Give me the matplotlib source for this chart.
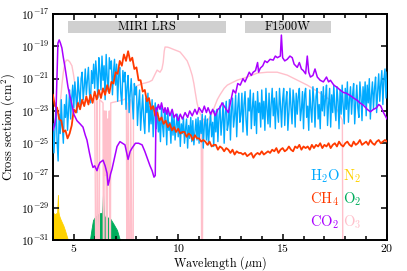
import numpy as np
import matplotlib
matplotlib.use("Agg")
import matplotlib.pyplot as plt

plt.rcParams['font.family'] = 'serif'
plt.rcParams['font.serif'] = ['cmr10']
plt.rcParams['mathtext.fontset'] = 'cm'
plt.rcParams['axes.formatter.use_mathtext'] = True
plt.rcParams['font.size'] = 9

# H2O sampled every 0.05 um, log10 cross section
h2o = [-23.8, -25.6, -24.1, -22.5, -24.9, -26.1, -23.2, -24.4, -22.3, -23.9, -25.0, -22.6, -23.4, -22.0, -24.2, -22.9, -21.7, -23.5, -22.2, -21.4,
       -22.8, -21.2, -22.1, -23.1, -20.9, -21.8, -22.6, -21.0, -20.6, -22.3, -21.5, -20.4, -22.0, -21.1, -20.3, -21.9, -22.5, -20.5, -21.3, -20.1,
       -21.6, -19.9, -20.8, -22.2, -19.7, -20.5, -21.7, -19.6, -21.1, -20.2, -22.3, -19.5, -20.9, -21.8, -19.7, -20.4, -19.9, -22.0, -20.6, -19.8,
       -21.4, -20.1, -22.4, -20.8, -20.3, -21.9, -22.6, -20.5, -21.2, -20.6, -22.9, -21.5, -20.8, -23.1, -21.9, -21.0, -22.4, -23.5, -21.3, -22.0,
       -21.5, -23.9, -22.6, -21.7, -24.2, -23.0, -22.0, -23.6, -24.4, -22.2, -23.1, -21.9, -24.3, -22.7, -23.8, -22.3, -24.6, -23.2, -22.5, -24.1,
       -22.7, -24.3, -23.5, -24.9, -22.8, -23.9, -24.6, -22.9, -23.4, -25.1, -23.0, -24.2, -23.7, -25.0, -23.1, -24.5, -23.3, -24.8, -23.9, -23.2,
       -24.6, -23.3, -25.2, -23.8, -24.4, -23.4, -25.0, -24.1, -23.5, -25.3, -23.9, -24.7, -23.4, -24.9, -23.6, -25.1, -24.3, -23.5, -24.8, -23.4,
       -25.0, -23.6, -24.4, -23.2, -25.3, -23.9, -23.3, -24.8, -23.5, -25.1, -24.0, -23.1, -24.6, -23.7, -25.2, -23.0, -24.3, -22.9, -24.9, -23.4,
       -22.7, -24.5, -23.6, -22.5, -25.0, -23.2, -22.4, -24.2, -23.8, -22.3, -24.8, -22.9, -22.2, -24.0, -23.3, -22.0, -24.6, -22.8, -21.9, -23.7,
       -23.2, -21.9, -24.3, -22.6, -21.8, -23.6, -24.5, -22.2, -23.0, -21.7, -24.1, -22.8, -21.9, -23.9, -22.4, -24.4, -21.8, -23.1, -22.5, -24.0,
       -21.7, -23.5, -22.4, -24.2, -21.6, -22.9, -23.8, -21.9, -24.0, -22.6, -21.6, -23.3, -22.2, -24.1, -21.8, -23.0, -23.7, -21.6, -22.7, -24.0,
       -22.3, -21.6, -23.9, -22.5, -21.8, -24.2, -23.1, -21.6, -22.8, -23.8, -21.7, -22.4, -24.0, -21.9, -23.2, -22.1, -21.6, -23.6, -22.9, -21.8,
       -24.1, -22.0, -21.6, -23.4, -22.7, -24.2, -21.7, -22.9, -23.7, -21.5, -22.4, -24.0, -22.1, -21.6, -23.5, -22.6, -24.1, -21.8, -23.0, -21.5,
       -23.3, -22.2, -21.4, -23.9, -22.6, -21.6, -24.0, -22.0, -23.1, -21.4, -22.8, -23.6, -21.5, -22.4, -24.1, -21.7, -23.2, -21.4, -22.7, -23.8,
       -21.6, -22.9, -21.2, -23.7, -22.3, -21.5, -23.2, -22.0, -21.3, -23.8, -22.5, -21.4, -22.8, -23.4, -21.2, -22.1, -23.6, -21.5, -22.6, -21.2,
       -23.3, -21.4, -22.5, -21.0, -23.5, -22.0, -21.2, -22.9, -21.6, -20.9, -23.1, -21.8, -20.7, -22.4, -21.3, -20.5, -22.6, -21.0, -20.4, -22.2,
       -20.6]
wl_h2o = np.round(np.linspace(4.0, 20.0, len(h2o)), 2)

# CH4 sampled every 0.1 um
ch4 = [-22.0, -22.7, -22.8, -23.5, -23.6, -24.3, -24.2, -24.7, -24.4, -23.9,
       -22.9, -23.1, -22.5, -22.9, -22.3, -22.7, -22.1, -22.6, -22.0, -22.5,
       -21.8, -22.3, -21.7, -22.2, -21.6, -22.0, -21.4, -21.9, -21.2, -21.3,
       -20.6, -20.7, -19.9, -20.2, -19.5, -19.9, -19.3, -19.9, -19.7, -20.4,
       -20.3, -21.1, -21.1, -21.8, -21.7, -22.4, -22.2, -22.9, -22.7, -23.3,
       -23.1, -23.6, -23.4, -23.8, -23.6, -24.0, -23.8, -24.2, -24.0, -24.3,
       -24.1, -24.4, -24.3, -24.3, -24.6, -24.4, -24.5, -24.8, -24.5, -24.7,
       -24.7, -24.9, -24.8, -24.9, -25.1, -24.9, -25.2, -25.1, -25.1, -25.4,
       -25.2, -25.3, -25.5, -25.3, -25.4, -25.6, -25.4, -25.7, -25.5, -25.6,
       -25.6, -25.7, -25.6, -25.8, -25.7, -25.6, -25.9, -25.7, -25.6, -25.7,
       -25.5, -25.7, -25.6, -25.5, -25.6, -25.4, -25.5, -25.3, -25.6, -25.4,
       -25.3, -25.5, -25.4, -25.2, -25.4, -25.5, -25.2, -25.3, -25.1, -25.4,
       -25.2, -25.3, -25.2, -25.4, -25.1, -25.3, -25.1, -25.2, -25.0, -25.3,
       -25.1, -25.2, -25.0, -25.3, -25.1, -25.0, -25.2, -24.9, -25.1, -25.2,
       -25.0, -24.9, -25.1, -25.2, -24.9, -25.1, -25.0, -24.8, -25.1, -25.0,
       -24.9, -25.1, -24.8, -25.0, -25.1, -24.9, -24.8, -25.0, -24.9, -24.8, -24.9]
wl_ch4 = np.round(np.linspace(4.0, 20.0, len(ch4)), 2)

co2_wl = [4.00, 4.08, 4.14, 4.19, 4.24, 4.30, 4.36, 4.43, 4.50, 4.58, 4.65, 4.72, 4.80, 4.91,
          5.00, 5.15, 5.30, 5.44, 5.55, 5.63, 5.75, 5.85, 5.92, 6.00, 6.11, 6.18, 6.25, 6.40,
          6.50, 6.59, 6.64, 6.70, 6.76, 6.83, 6.95, 7.07, 7.21, 7.33, 7.45, 7.55, 7.60, 7.70,
          7.79, 7.95, 8.10, 8.27, 8.40, 8.51, 8.65, 8.75, 8.84, 8.90, 8.94,
          9.00, 9.05, 9.13, 9.20, 9.30, 9.37, 9.45, 9.50, 9.60, 9.71, 9.80, 9.90, 10.00, 10.10,
          10.20, 10.33, 10.45, 10.55, 10.67, 10.80, 10.90, 11.00, 11.15, 11.25, 11.35, 11.43,
          11.55, 11.65, 11.77, 11.90, 12.00, 12.10, 12.20, 12.30, 12.40, 12.50, 12.63, 12.75,
          12.85, 12.97, 13.10, 13.20, 13.30, 13.40, 13.50, 13.59, 13.70, 13.80, 13.85, 13.93,
          14.05, 14.15, 14.26, 14.40, 14.55, 14.65, 14.75, 14.89, 14.94, 15.00, 15.10, 15.22,
          15.35, 15.46, 15.55, 15.70, 15.80, 15.90, 15.99, 16.10, 16.18, 16.25, 16.33, 16.45,
          16.55, 16.66, 16.80, 16.95, 17.10, 17.20, 17.29, 17.45, 17.62, 17.75, 17.90, 18.05,
          18.24, 18.40, 18.58, 18.70, 18.87, 19.05, 19.20, 19.35, 19.50, 19.60, 19.70, 19.83,
          20.00]
co2 = [-24.2, -23.9, -23.4, -21.1, -18.8, -18.6, -18.8, -19.1, -19.7, -20.3, -20.9, -21.5, -22.0, -22.6,
       -23.2, -23.6, -23.8, -24.0, -24.5, -24.8, -25.6, -26.2, -26.5, -26.4, -26.7, -26.4, -26.2, -26.05,
       -26.4, -26.85, -27.6, -27.3, -26.9, -26.6, -25.9, -25.2, -24.9, -25.0, -25.1, -25.7, -26.0, -25.5,
       -25.3, -25.0, -25.0, -25.1, -25.5, -25.9, -26.4, -26.7, -27.1, -27.0, -22.8,
       -22.9, -22.6, -22.9, -22.5, -23.1, -22.8, -23.2, -22.8, -23.3, -22.9, -23.4, -23.2, -23.6, -23.2,
       -23.5, -23.1, -23.4, -23.0, -23.3, -22.9, -23.2, -22.8, -23.1, -22.7, -23.1, -22.8,
       -23.2, -22.9, -23.3, -22.9, -22.8, -22.5, -22.7, -22.9, -23.1, -22.5, -21.7, -21.9,
       -21.3, -21.4, -21.0, -21.2, -20.9, -20.6, -20.8, -20.6, -20.5, -20.0, -20.6, -20.35,
       -20.2, -19.9, -20.0, -19.8, -19.85, -19.6, -19.7, -19.6, -18.3, -19.7, -19.9, -19.8,
       -19.6, -19.7, -20.1, -20.3, -20.0, -20.4, -20.5, -20.7, -19.6, -20.6, -20.9, -20.8,
       -20.4, -20.9, -21.1, -21.2, -20.9, -21.2, -21.1, -21.4, -21.55, -21.7, -21.85, -21.9,
       -22.05, -22.2, -22.35, -22.5, -22.65, -22.9, -23.05, -22.9, -22.8, -22.6, -22.7, -23.1,
       -23.5]

# O3: -40 means no absorption (line drops off the axis)
o3_wl = [4.30, 4.36, 4.43, 4.50, 4.58, 4.65, 4.72, 4.80, 4.91, 4.98, 5.05, 5.15, 5.30, 5.50, 5.80, 6.00,
         6.09, 6.12, 6.20, 6.24, 6.32,
         6.40, 6.43, 6.46, 6.50, 6.54, 6.58, 6.62, 6.66, 6.70, 6.74, 6.77, 7.10, 7.40,
         7.52, 7.55, 7.60, 7.68, 7.72, 7.83, 7.86, 7.93, 8.10, 8.30, 8.41, 8.60, 8.75, 8.90, 8.99,
         9.13, 9.22, 9.28, 9.33, 9.37, 9.50, 9.61, 9.80, 10.00, 10.09, 10.25, 10.43, 10.55, 10.67,
         10.75, 10.81, 10.90, 11.00, 11.10, 11.14, 11.18, 11.40, 11.60,
         11.87, 12.00, 12.20, 12.35, 12.50, 12.83, 13.30, 13.78, 14.26, 14.74, 15.22, 15.70,
         16.18, 16.33, 16.80, 17.29, 17.62, 17.86, 17.90, 20.00]
o3 = [-23.5, -22.4, -21.4, -20.6, -20.0, -19.85, -19.85, -19.95, -20.2, -20.7, -21.3, -22.3, -22.6, -22.5, -22.3, -22.2,
      -40, -22.4, -40, -22.3, -22.4,
      -22.5, -40, -23.0, -27.0, -23.0, -40, -23.5, -27.5, -23.0, -40, -22.5, -22.4, -22.3,
      -22.2, -40, -22.5, -40, -22.3, -40, -22.0, -21.5, -21.4, -21.3, -21.27, -21.2, -21.1, -20.7, -20.47,
      -20.6, -20.4, -20.0, -19.3, -19.04, -19.05, -19.1, -19.2, -19.3, -19.35, -19.6, -19.9, -20.3, -20.8,
      -21.3, -21.8, -22.5, -23.0, -23.3, -40, -23.5, -23.6, -23.2,
      -22.3, -22.0, -21.6, -21.4, -21.3, -21.09, -20.9, -20.66, -20.6, -20.6, -20.78, -21.09,
      -21.4, -21.52, -21.9, -22.33, -22.95, -23.57, -40, -40]

n2_wl = [4.00, 4.10, 4.14, 4.20, 4.24, 4.26, 4.29, 4.36, 4.43, 4.50, 4.58, 4.65, 4.72]
n2 = [-29.3, -29.4, -29.35, -29.3, -28.2, -29.2, -29.45, -29.7, -29.9, -30.1, -30.4, -30.7, -31.0]

o2_wl = [5.77, 5.85, 5.92, 6.00, 6.11, 6.25, 6.36, 6.40, 6.44, 6.49, 6.64, 6.73, 6.88, 7.07, 7.21]
o2 = [-31.0, -30.3, -29.76, -29.6, -29.45, -29.33, -29.3, -28.03, -29.4, -29.58, -29.6, -29.64, -29.95, -30.38, -31.0]

bands = [("MIRI LRS", 4.7, 12.3), ("F1500W", 13.2, 17.3)]
band_lo, band_hi = -18.18, -17.43

colors = {"H2O": "#00aaff", "CH4": "#ff3a00", "CO2": "#aa00ff",
          "N2": "#ffd200", "O2": "#00ad5c", "O3": "#ffc0cb"}
labels = {"H2O": r"H$_2$O", "CH4": r"CH$_4$", "CO2": r"CO$_2$",
          "N2": r"N$_2$", "O2": r"O$_2$", "O3": r"O$_3$"}

fig = plt.figure(figsize=(4.07, 2.71), dpi=100)
ax = fig.add_axes([0.130, 0.114, 0.821, 0.834])

ax.fill_between(n2_wl, 1e-40, 10**np.array(n2), color=colors["N2"], lw=0.6, zorder=1)
ax.fill_between(o2_wl, 1e-40, 10**np.array(o2), color=colors["O2"], lw=0.6, zorder=1)
ax.plot(o3_wl, 10**np.array(o3, dtype=float), color=colors["O3"], lw=1.0, zorder=2)
ax.plot(wl_h2o, 10**np.array(h2o), color=colors["H2O"], lw=1.0, zorder=3)
ax.plot(wl_ch4, 10**np.array(ch4), color=colors["CH4"], lw=1.3, zorder=4)
ax.plot(co2_wl, 10**np.array(co2), color=colors["CO2"], lw=1.1, zorder=5)

for name, x0, x1 in bands:
    ax.fill_between([x0, x1], 10**band_lo, 10**band_hi, color="#d0d0d0", lw=0, zorder=6)
    ax.text((x0 + x1) / 2, 10**((band_lo + band_hi) / 2), name, ha="center", va="center",
            fontsize=9, zorder=7)

ax.set_yscale("log")
ax.set_xlim(4, 20)
ax.set_ylim(1e-31, 1e-17)
ax.yaxis.set_major_locator(matplotlib.ticker.FixedLocator(10.0**np.arange(-31, -16, 2)))
ax.yaxis.set_minor_locator(matplotlib.ticker.NullLocator())
ax.xaxis.set_major_locator(matplotlib.ticker.FixedLocator([5, 10, 15, 20]))
ax.xaxis.set_minor_locator(matplotlib.ticker.MultipleLocator(1))
ax.tick_params(which="both", direction="in", top=True, right=True, width=1.1, labelsize=8.5)
ax.tick_params(which="major", length=4.5)
ax.tick_params(which="minor", length=3)
ax.tick_params(axis="y", pad=2.5)
ax.tick_params(axis="x", pad=1.5)
for s in ax.spines.values():
    s.set_linewidth(1.4)

ax.set_xlabel(r"Wavelength ($\mu$m)", fontsize=8.7)
ax.set_ylabel(r"Cross section (cm$^2$)", fontsize=9)
ax.xaxis.set_label_coords(0.5, -0.063)
ax.yaxis.set_label_coords(-0.108, 0.5)

leg = [("H2O", 0, 0), ("CH4", 0, 1), ("CO2", 0, 2), ("N2", 1, 0), ("O2", 1, 1), ("O3", 1, 2)]
for key, col, row in leg:
    ax.text([0.769, 0.868][col], [0.283, 0.181, 0.080][row], labels[key],
            color=colors[key], transform=ax.transAxes, ha="left", va="center",
            fontsize=10.5, zorder=8)

fig.savefig("out.png", dpi=100)
